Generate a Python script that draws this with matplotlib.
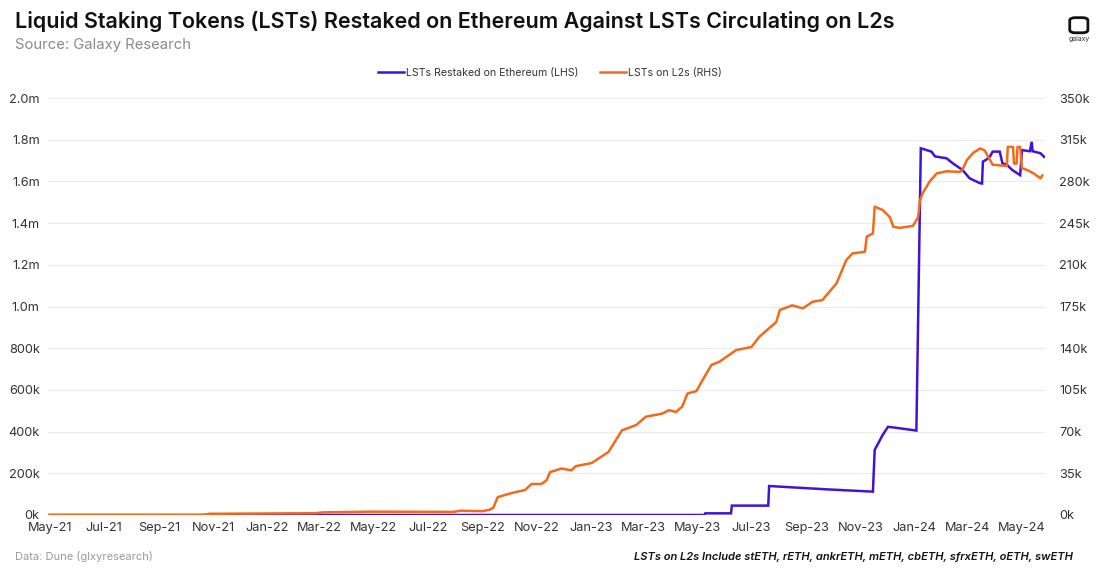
#!/usr/bin/env python3

import matplotlib
matplotlib.use("Agg")
import matplotlib.pyplot as plt
import matplotlib.dates as mdates
from matplotlib.patches import FancyBboxPatch
from matplotlib.ticker import FuncFormatter, MultipleLocator
import pandas as pd

# LSTs restaked on Ethereum (left axis, ETH)
restaked_dates = [
    "2021-05-01", "2023-05-09", "2023-05-10", "2023-06-08", "2023-06-09",
    "2023-07-20", "2023-07-21", "2023-09-24", "2023-11-15", "2023-11-17",
    "2023-11-23", "2023-11-26", "2023-12-02", "2023-12-08", "2024-01-03",
    "2024-01-08", "2024-01-20", "2024-01-24", "2024-02-06", "2024-02-13",
    "2024-02-24", "2024-03-03", "2024-03-15", "2024-03-17", "2024-03-18",
    "2024-03-22", "2024-03-26", "2024-03-29", "2024-04-06", "2024-04-09",
    "2024-04-14", "2024-04-20", "2024-04-29", "2024-05-01", "2024-05-10",
    "2024-05-12", "2024-05-13", "2024-05-22", "2024-05-26",
]
restaked_values = [
    0, 0, 8_000, 8_000, 45_000,
    45_000, 139_000, 123_000, 112_000, 312_000,
    360_000, 384_000, 423_000, 420_000, 405_000,
    1_759_000, 1_743_000, 1_720_000, 1_711_000, 1_687_000,
    1_655_000, 1_615_000, 1_591_000, 1_590_000, 1_695_000,
    1_705_000, 1_720_000, 1_743_000, 1_743_000, 1_687_000,
    1_680_000, 1_655_000, 1_630_000, 1_750_000, 1_745_000,
    1_790_000, 1_745_000, 1_735_000, 1_718_000,
]

# LSTs circulating on L2s (right axis, ETH)
l2_dates = [
    "2021-05-01", "2021-10-20", "2021-10-28", "2022-02-25", "2022-03-05",
    "2022-04-28", "2022-07-30", "2022-08-07", "2022-09-01", "2022-09-09",
    "2022-09-13", "2022-09-18", "2022-10-04", "2022-10-19", "2022-10-26",
    "2022-11-06", "2022-11-12", "2022-11-16", "2022-11-29", "2022-12-10",
    "2022-12-15", "2023-01-02", "2023-01-21", "2023-02-05", "2023-02-21",
    "2023-03-04", "2023-03-22", "2023-03-30", "2023-04-07", "2023-04-14",
    "2023-04-20", "2023-04-30", "2023-05-06", "2023-05-17", "2023-05-26",
    "2023-06-14", "2023-07-01", "2023-07-10", "2023-07-29", "2023-08-02",
    "2023-08-16", "2023-08-28", "2023-09-08", "2023-09-19", "2023-10-05",
    "2023-10-16", "2023-10-23", "2023-11-06", "2023-11-08", "2023-11-15",
    "2023-11-17", "2023-11-26", "2023-12-04", "2023-12-08", "2023-12-15",
    "2023-12-30", "2024-01-05", "2024-01-07", "2024-01-10", "2024-01-18",
    "2024-01-26", "2024-02-06", "2024-02-21", "2024-02-24", "2024-02-29",
    "2024-03-07", "2024-03-15", "2024-03-20", "2024-03-26", "2024-03-29",
    "2024-04-14", "2024-04-15", "2024-04-21", "2024-04-22", "2024-04-25",
    "2024-04-26", "2024-04-29", "2024-05-01", "2024-05-07", "2024-05-14",
    "2024-05-22", "2024-05-24",
]
l2_values = [
    0, 0, 1_000, 1_500, 2_200,
    2_800, 2_600, 3_600, 3_200, 4_500,
    6_000, 15_000, 18_500, 21_000, 26_000,
    26_000, 29_000, 36_000, 39_000, 37_500,
    41_000, 43_600, 53_000, 71_000, 75_500,
    82_500, 85_000, 88_000, 86_500, 91_000,
    102_000, 104_000, 112_000, 126_000, 128_700,
    138_500, 141_000, 149_600, 162_000, 172_000,
    176_000, 173_500, 179_000, 180_400, 194_500,
    214_000, 219_600, 221_000, 233_600, 236_400,
    258_800, 256_000, 250_000, 242_000, 241_000,
    242_600, 250_000, 264_000, 270_000, 280_000,
    286_800, 288_500, 288_000, 290_000, 298_000,
    304_000, 307_700, 306_000, 298_000, 294_000,
    293_000, 309_000, 309_000, 295_000, 295_000,
    309_000, 309_000, 291_000, 289_600, 286_800,
    282_600, 285_000,
]

PURPLE = "#4212D6"
ORANGE = "#F26A1B"
TEXT = "#333333"

plt.rcParams["font.family"] = ["Inter", "DejaVu Sans"]

fig = plt.figure(figsize=(11, 5.7), dpi=100)
ax = fig.add_axes([0.0436, 0.0965, 0.9064, 0.7315])
ax2 = ax.twinx()

restaked = pd.Series(restaked_values, index=pd.to_datetime(restaked_dates))
l2 = pd.Series(l2_values, index=pd.to_datetime(l2_dates))

ax.plot(restaked.index, restaked.values, color=PURPLE, lw=1.8,
        label="LSTs Restaked on Ethereum (LHS)", solid_joinstyle="miter")
ax2.plot(l2.index, l2.values, color=ORANGE, lw=1.8,
         label="LSTs on L2s (RHS)")

ax.set_xlim(pd.Timestamp("2021-04-29"), pd.Timestamp("2024-05-27"))
ax.set_ylim(0, 2_000_000)
ax2.set_ylim(0, 350_000)

ax.yaxis.set_major_locator(MultipleLocator(200_000))
ax2.yaxis.set_major_locator(MultipleLocator(35_000))


def left_fmt(v, _):
    if v >= 1_000_000:
        return f"{v / 1e6:.1f}m"
    return f"{v / 1e3:.0f}k"


ax.yaxis.set_major_formatter(FuncFormatter(left_fmt))
ax2.yaxis.set_major_formatter(FuncFormatter(lambda v, _: f"{v / 1e3:.0f}k"))

ax.xaxis.set_major_locator(mdates.MonthLocator(bymonth=[1, 3, 5, 7, 9, 11]))
ax.xaxis.set_major_formatter(mdates.DateFormatter("%b-%y"))

ax.grid(axis="y", color="#ebebeb", lw=0.8)
ax.set_axisbelow(True)
for a in (ax, ax2):
    for s in a.spines.values():
        s.set_visible(False)
    a.tick_params(length=0, labelsize=9.2, colors=TEXT)
ax.tick_params(axis="y", pad=6)
ax.tick_params(axis="x", pad=5)
ax2.tick_params(axis="y", pad=10)

# title and source
fig.text(0.0136, 0.962, "Liquid Staking Tokens (LSTs) Restaked on Ethereum Against LSTs Circulating on L2s",
         fontsize=15.5, fontweight="semibold", color="#111111", va="center")
fig.text(0.0136, 0.921, "Source: Galaxy Research", fontsize=10.7, color="#8a8a8a", va="center")

# legend
h1, l1 = ax.get_legend_handles_labels()
h2, l2l = ax2.get_legend_handles_labels()
fig.legend(h1 + h2, l1 + l2l, loc="center", bbox_to_anchor=(0.5, 0.872), ncol=2,
           frameon=False, fontsize=7.6, handlelength=2.4, handletextpad=0.2,
           columnspacing=2.1, labelcolor=TEXT)

# logo
fig.patches.append(FancyBboxPatch((0.9745, 0.9445), 0.0125, 0.0225,
                                  boxstyle="round,pad=0.002,rounding_size=0.005",
                                  transform=fig.transFigure, fill=False,
                                  ec="#111111", lw=2.0))
fig.text(0.981, 0.932, "galaxy", fontsize=5, color="#333333", ha="center", va="center")

# footer
fig.text(0.0136, 0.023, "Data: Dune (glxyresearch)", fontsize=8, color="#9a9a9a", va="center")
fig.text(0.975, 0.023, "LSTs on L2s Include stETH, rETH, ankrETH, mETH, cbETH, sfrxETH, oETH, swETH",
         fontsize=8, fontstyle="italic", fontweight="semibold", color="#111111",
         ha="right", va="center")

fig.savefig("out.png", dpi=100)
